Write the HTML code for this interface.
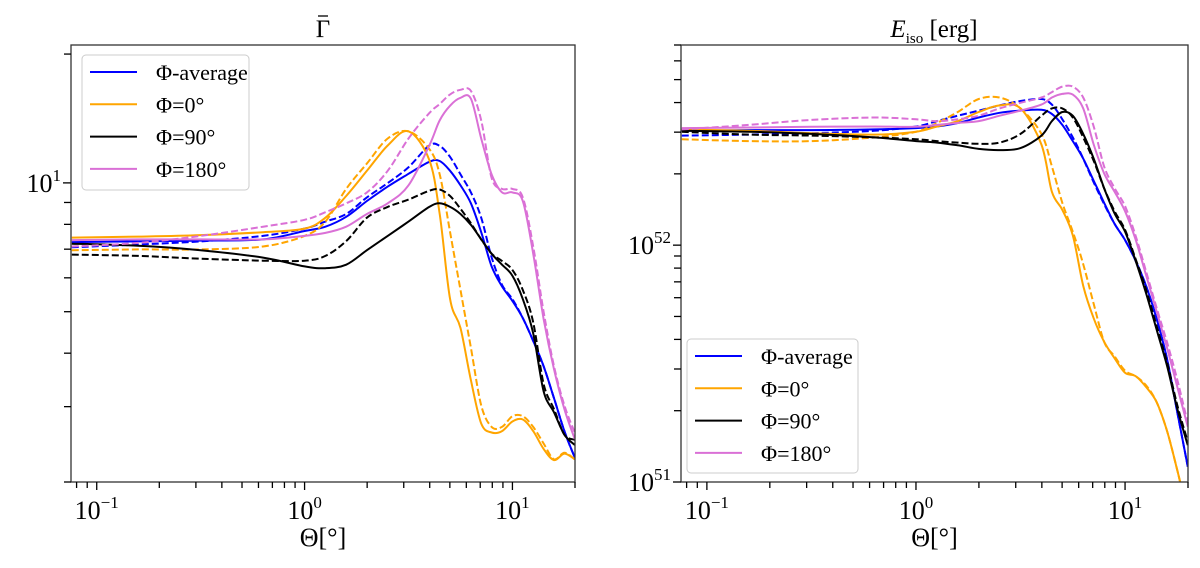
<!DOCTYPE html>
<html><head><meta charset="utf-8"><style>
html,body{margin:0;padding:0;background:#fff;}
svg{display:block;font-family:"Liberation Serif","DejaVu Serif",serif;}
</style></head><body>
<svg id="fig" width="1200" height="568" viewBox="0 0 1200 568"></svg>
<script>
// shared angle grid (degrees)
const theta = [0.0759,0.1585,0.3162,0.631,1.0,1.259,1.585,1.995,2.512,3.162,3.981,4.467,5.012,5.623,6.31,7.079,7.943,8.913,10.0,11.22,12.59,14.13,15.85,17.78,19.95];
// Left panel: mean Lorentz factor
const gAvg    = [7.27,7.3,7.33,7.38,7.72,7.9,8.33,9.07,9.8,10.5,11.2,11.25,10.67,9.87,8.96,7.67,6.38,5.73,5.3,4.83,4.27,3.73,3.14,2.63,2.28];
const gAvgD   = [7.07,7.18,7.3,7.52,7.82,8.12,8.46,9.25,9.99,10.88,12.23,12.2,11.5,10.47,9.5,8.29,6.7,5.78,5.35,4.83,4.27,3.73,3.14,2.63,2.28];
const g0      = [7.45,7.49,7.55,7.67,7.82,8.29,9.32,10.67,12.23,13.2,11.31,8.46,5.35,4.58,3.46,2.74,2.61,2.63,2.77,2.8,2.63,2.39,2.25,2.33,2.26];
const g0D     = [6.96,6.99,6.99,7.1,7.52,8.12,9.68,11.1,12.7,13.2,12.0,10.47,7.67,5.62,4.12,3.02,2.69,2.69,2.85,2.85,2.69,2.46,2.26,2.34,2.26];
const g90     = [7.21,7.13,6.96,6.69,6.38,6.32,6.44,6.96,7.52,8.12,8.79,8.96,8.79,8.46,7.98,7.38,6.83,6.44,6.07,5.35,4.45,3.26,2.91,2.58,2.44];
const g90D    = [6.8,6.75,6.65,6.58,6.58,6.75,7.31,8.29,8.79,9.14,9.59,9.65,9.32,8.7,8.05,7.38,6.83,6.57,6.26,5.62,4.72,3.39,2.96,2.58,2.51];
const g180    = [7.35,7.38,7.38,7.38,7.52,7.64,7.9,8.46,8.96,9.87,12.23,14.0,15.15,15.81,15.73,12.7,10.47,9.5,9.5,9.07,6.83,4.81,3.67,2.96,2.52];
const g180D   = [7.1,7.24,7.52,7.9,8.2,8.54,8.96,9.5,10.67,12.7,14.56,15.29,16.1,16.5,16.4,14.0,10.27,9.68,9.68,9.25,7.1,5.0,3.73,3.02,2.61];
// Right panel: isotropic energy [erg]
const eAvg    = [3.04e52,3.06e52,3.06e52,3.08e52,3.12e52,3.17e52,3.28e52,3.46e52,3.62e52,3.7e52,3.73e52,3.58e52,3.22e52,2.75e52,2.32e52,1.87e52,1.51e52,1.23e52,1.05e52,8.62e51,6.74e51,4.91e51,3.33e51,1.97e51,1.16e51];
const eAvgD   = [2.9e52,2.93e52,2.97e52,3.04e52,3.17e52,3.34e52,3.52e52,3.7e52,3.89e52,4.06e52,4.14e52,3.92e52,3.4e52,2.85e52,2.32e52,1.84e52,1.49e52,1.23e52,1.05e52,8.62e51,6.74e51,4.91e51,3.33e51,1.97e51,1.16e51];
const e0      = [3.08e52,3.04e52,2.97e52,2.93e52,3.01e52,3.17e52,3.34e52,3.65e52,3.89e52,3.78e52,2.66e52,1.68e52,1.41e52,1.1e52,6.74e51,4.91e51,3.91e51,3.33e51,2.89e51,2.8e51,2.52e51,2.18e51,1.65e51,1.12e51,0.73e51];
const e0D     = [2.8e52,2.75e52,2.75e52,2.85e52,3.01e52,3.28e52,3.65e52,4.14e52,4.2e52,3.78e52,2.95e52,2.15e52,1.51e52,1.14e52,8.32e51,5.65e51,3.91e51,3.39e51,2.95e51,2.8e51,2.56e51,2.18e51,1.65e51,1.12e51,0.73e51];
const e90     = [3.04e52,3.01e52,2.95e52,2.85e52,2.75e52,2.71e52,2.64e52,2.55e52,2.52e52,2.57e52,2.9e52,3.34e52,3.65e52,3.52e52,2.95e52,2.32e52,1.74e52,1.36e52,1.14e52,8.62e51,6.28e51,4.42e51,3.11e51,2.04e51,1.43e51];
const e90D    = [3.01e52,2.93e52,2.9e52,2.85e52,2.8e52,2.75e52,2.71e52,2.68e52,2.71e52,2.95e52,3.52e52,3.78e52,3.78e52,3.46e52,2.85e52,2.27e52,1.74e52,1.39e52,1.16e52,8.77e51,6.51e51,4.57e51,3.22e51,2.11e51,1.48e51];
const e180    = [3.12e52,3.14e52,3.16e52,3.17e52,3.16e52,3.22e52,3.28e52,3.34e52,3.52e52,3.7e52,3.92e52,4.2e52,4.35e52,4.32e52,3.78e52,2.66e52,2.01e52,1.68e52,1.39e52,1.06e52,7.49e51,5.27e51,3.7e51,2.52e51,1.71e51];
const e180D   = [3.08e52,3.22e52,3.38e52,3.46e52,3.4e52,3.34e52,3.4e52,3.52e52,3.78e52,3.99e52,4.2e52,4.43e52,4.67e52,4.67e52,4.2e52,3.17e52,2.15e52,1.74e52,1.46e52,1.1e52,7.76e51,5.46e51,3.91e51,2.7e51,1.77e51];
const legendLabels = ["Φ-average","Φ=0°","Φ=90°","Φ=180°"];
const colors = ["#0000ff","#ffa500","#000000","#da70d6"];

const NS="http://www.w3.org/2000/svg";
const svg=document.getElementById('fig');
function mk(tag,attrs,parent){const e=document.createElementNS(NS,tag);for(const k in attrs)e.setAttribute(k,attrs[k]);(parent||svg).appendChild(e);return e;}
function smooth(pts){
  let d='M'+pts[0][0].toFixed(1)+','+pts[0][1].toFixed(1);
  for(let i=0;i<pts.length-1;i++){
    const p0=pts[Math.max(0,i-1)],p1=pts[i],p2=pts[i+1],p3=pts[Math.min(pts.length-1,i+2)];
    const c1x=p1[0]+(p2[0]-p0[0])/6,c1y=p1[1]+(p2[1]-p0[1])/6;
    const c2x=p2[0]-(p3[0]-p1[0])/6,c2y=p2[1]-(p3[1]-p1[1])/6;
    d+='C'+c1x.toFixed(1)+','+c1y.toFixed(1)+' '+c2x.toFixed(1)+','+c2y.toFixed(1)+' '+p2[0].toFixed(1)+','+p2[1].toFixed(1);
  }
  return d;
}

function panel(p){
  const g=mk('g',{});
  
  
  const X=v=>p.x0+(Math.log10(v)-Math.log10(p.xmin))/(Math.log10(p.xmax)-Math.log10(p.xmin))*(p.x1-p.x0);
  const Y=v=>p.y1-(Math.log10(v)-Math.log10(p.ymin))/(Math.log10(p.ymax)-Math.log10(p.ymin))*(p.y1-p.y0);
  const cid='clip'+p.id;
  const cp=mk('clipPath',{id:cid},g);mk('rect',{x:p.x0,y:p.y0,width:p.x1-p.x0,height:p.y1-p.y0},cp);
  const lg=mk('g',{'clip-path':'url(#'+cid+')'},g);
  p.series.forEach((s,i)=>{
    const pts=theta.map((t,j)=>[X(t),Y(s.v[j])]);
    const path=mk('path',{d:smooth(pts),fill:'none',stroke:colors[s.c],'stroke-width':2,'stroke-linejoin':'round','stroke-dasharray':s.dash?'7,3':'none'},lg);
    
    
  });
  const fr=mk('rect',{x:p.x0,y:p.y0,width:p.x1-p.x0,height:p.y1-p.y0,fill:'none',stroke:'#333','stroke-width':1.3},g);
  
  
  for(let e=-2;e<=1;e++){for(let m=1;m<=9;m++){const v=m*Math.pow(10,e);if(v<p.xmin||v>p.xmax*1.001)continue;const x=X(v);
    mk('line',{x1:x,x2:x,y1:p.y1,y2:p.y1+(m===1?8:6),stroke:'#000','stroke-width':1.3},g);
    if(m===1){const t=mk('text',{x:x,y:p.y1+37,'text-anchor':'middle','font-size':26},g);t.innerHTML='10<tspan dy="-11" font-size="17">'+(e<0?'−'+(-e):e)+'</tspan>';
      
      }}}
  for(let e=0;e<=53;e++){if(e>2&&e<50)continue;for(let m=1;m<=9;m++){const v=m*Math.pow(10,e);if(v<p.ymin*0.999||v>p.ymax)continue;const y=Y(v);
    mk('line',{x1:p.x0-(m===1?8:7),x2:p.x0,y1:y,y2:y,stroke:'#000','stroke-width':1.3},g);
    if(m===1){const t=mk('text',{x:p.x0-10,y:y+9,'text-anchor':'end','font-size':26},g);t.innerHTML='10<tspan dy="-11" font-size="17">'+e+'</tspan>';
      
      }}}
  const xl=mk('text',{x:(p.x0+p.x1)/2,y:546,'text-anchor':'middle','font-size':26},g);xl.textContent='Θ[°]';
  
  
  const tt=mk('text',{x:p.tx,y:37,'text-anchor':'middle','font-size':25},g);tt.innerHTML=p.title;
  
  
  if(p.bar){const b=mk('line',{x1:p.tx-5,x2:p.tx+5,y1:16,y2:16,stroke:'#000','stroke-width':1.3},g);
    
    }
  const L=p.leg;
  const lb=mk('rect',{x:L.x,y:L.y,width:L.w,height:L.h,rx:4,fill:'#fff','fill-opacity':0.8,stroke:'#ccc','stroke-width':1},g);
  
  
  legendLabels.forEach((lab,i)=>{const yy=L.y+17+i*32.3;
    const ln=mk('line',{x1:L.x+8,x2:L.x+55,y1:yy,y2:yy,stroke:colors[i],'stroke-width':2},g);
    
    
    const t=mk('text',{x:L.x+74,y:yy+8,'font-size':22},g);t.textContent=lab;
    
    });
}
panel({id:'gamma',name:'gamma-panel',x0:71,x1:575,y0:45,y1:482,xmin:0.0752,xmax:20,ymin:2,ymax:21,title:'Γ',tx:323,bar:1,
  leg:{x:82,y:55,w:167,h:135},
  series:[{n:'avg',c:0,v:gAvg},{n:'avg',c:0,v:gAvgD,dash:1},{n:'phi0',c:1,v:g0},{n:'phi0',c:1,v:g0D,dash:1},{n:'phi90',c:2,v:g90},{n:'phi90',c:2,v:g90D,dash:1},{n:'phi180',c:3,v:g180},{n:'phi180',c:3,v:g180D,dash:1}]});
panel({id:'eiso',name:'eiso-panel',x0:681,x1:1188,y0:45,y1:482,xmin:0.0752,xmax:20,ymin:1e51,ymax:7e52,tx:934,
  title:'<tspan font-style="italic">E</tspan><tspan font-size="15" dy="6">iso</tspan><tspan dy="-6"> [erg]</tspan>',
  leg:{x:687,y:339,w:171,h:134},
  series:[{n:'avg',c:0,v:eAvg},{n:'avg',c:0,v:eAvgD,dash:1},{n:'phi0',c:1,v:e0},{n:'phi0',c:1,v:e0D,dash:1},{n:'phi90',c:2,v:e90},{n:'phi90',c:2,v:e90D,dash:1},{n:'phi180',c:3,v:e180},{n:'phi180',c:3,v:e180D,dash:1}]});
</script>
</body></html>
